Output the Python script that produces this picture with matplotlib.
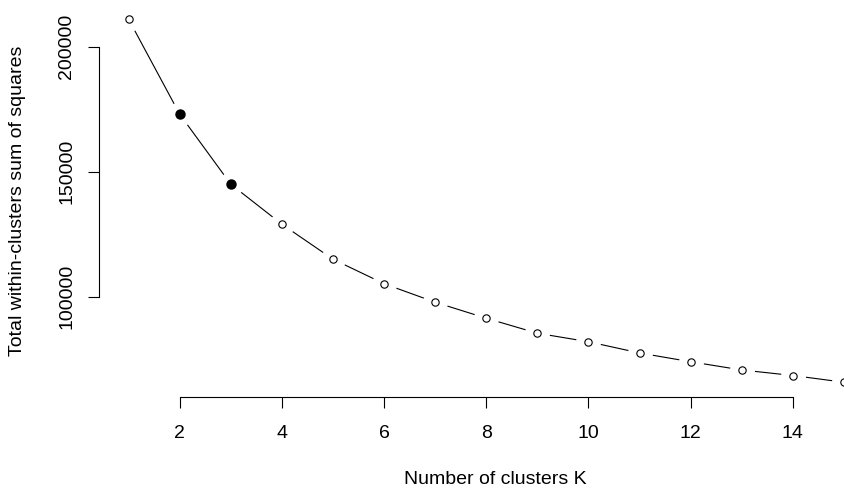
import matplotlib
matplotlib.use("Agg")
import matplotlib.pyplot as plt
import numpy as np

# elbow curve: total within-cluster SS for k = 1..15
k_values = np.arange(1, 16)
wss = [211000, 173000, 145000, 129000, 115000, 105200, 97800, 91400,
       85400, 82000, 77500, 74000, 70700, 68500, 65800]
highlight_k = [2, 3]

x_ticks = [2, 4, 6, 8, 10, 12, 14]
y_ticks = [100000, 150000, 200000]

plt.rcParams['font.family'] = ['Liberation Sans', 'DejaVu Sans']

fig = plt.figure(figsize=(8.45, 4.9), dpi=100)
ax = fig.add_axes([99 / 845, 1 - 397 / 490, 746 / 845, 392.5 / 490])

wss = np.array(wss)
# line first, then white discs to cut gaps around points (like R type="b")
ax.plot(k_values, wss, color='black', lw=0.8, zorder=1)
ax.plot(k_values, wss, 'o', ms=18, mfc='white', mec='none', zorder=2)
ax.plot(k_values, wss, 'o', ms=5.3, mfc='white', mec='black', mew=0.8, zorder=3)
mask = np.isin(k_values, highlight_k)
ax.plot(k_values[mask], wss[mask], 'o', ms=6.5, mfc='black', mec='black', zorder=4)

ax.set_xlim(0.42, 15.02)
ax.set_ylim(59900, 216900)

ax.set_xticks(x_ticks)
ax.set_yticks(y_ticks)
ax.set_yticklabels([str(v) for v in y_ticks], rotation=90, va='center')

for s in ['top', 'right']:
    ax.spines[s].set_visible(False)
ax.spines['bottom'].set_bounds(2, 14)
ax.spines['left'].set_bounds(100000, 200000)
ax.spines['bottom'].set_linewidth(0.8)
ax.spines['left'].set_linewidth(0.8)

ax.tick_params(axis='both', direction='out', length=8, width=0.8, labelsize=14)
ax.tick_params(axis='x', pad=12)
ax.tick_params(axis='y', pad=9)

ax.set_xlabel("Number of clusters K", fontsize=14)
ax.set_ylabel("Total within-clusters sum of squares", fontsize=14)
ax.xaxis.set_label_coords((495 - 99) / 746, (397 - 480) / 392.5)
ax.xaxis.label.set_va('center')
ax.yaxis.set_label_coords((18 - 99) / 746, 0.5)
ax.yaxis.label.set_va('center')

fig.savefig("out.png", dpi=100)
